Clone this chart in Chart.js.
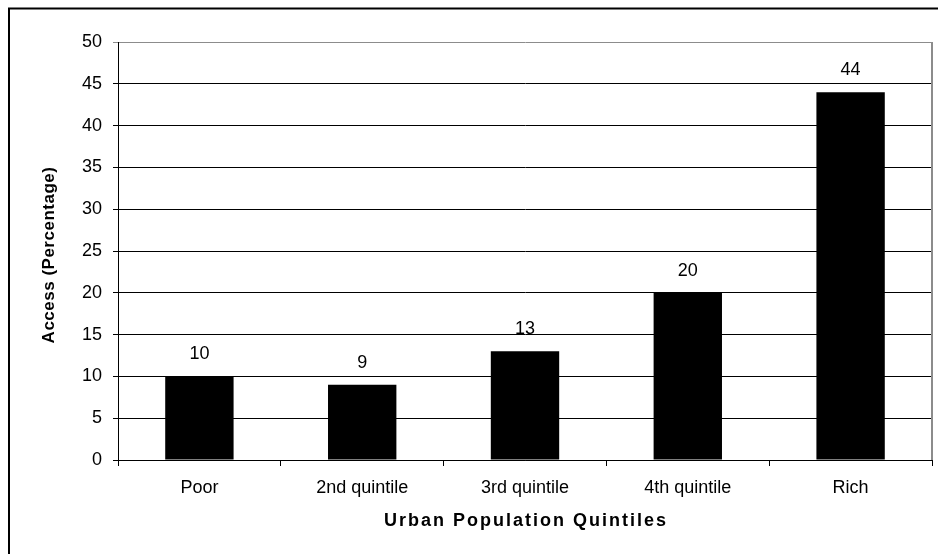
<!DOCTYPE html>
<html>
<head>
<meta charset="utf-8">
<script src="https://cdn.jsdelivr.net/npm/chart.js@4/dist/chart.umd.min.js"></script>
<style>
  html,body{margin:0;padding:0;background:#fff}
  #wrap{width:938px;height:554px;position:relative}
</style>
</head>
<body>
<div id="wrap"><canvas id="c"></canvas></div>
<script>
const categories = ['Poor','2nd quintile','3rd quintile','4th quintile','Rich']
const access = [10, 9, 13, 20, 44]
const yTicks = [0,5,10,15,20,25,30,35,40,45,50]
const xTitle = 'Urban Population Quintiles'
const yTitle = 'Access (Percentage)'

const FONT = "Arial, 'Liberation Sans', sans-serif"

// outer frame, gray plot border, axis titles and value labels
const decor = {
  id:'decor',
  beforeDraw(chart){
    const g = chart.ctx
    g.save()
    g.fillStyle = '#fff'
    g.fillRect(0,0,chart.width,chart.height)
    g.strokeStyle = '#000'
    g.lineWidth = 2
    g.beginPath()
    g.moveTo(9, chart.height+2); g.lineTo(9,8.5); g.lineTo(chart.width+2,8.5)
    g.stroke()
    g.restore()
  },
  afterDatasetsDraw(chart){
    const g = chart.ctx, a = chart.chartArea
    g.save()
    g.strokeStyle = '#8c8c8c'
    g.lineWidth = 2
    g.beginPath()
    g.moveTo(a.right, a.top); g.lineTo(a.right, a.bottom)
    g.stroke()
    g.fillStyle = '#000'
    g.font = '18px ' + FONT
    g.textAlign = 'center'
    g.textBaseline = 'alphabetic'
    chart.getDatasetMeta(0).data.forEach((bar,i)=>{
      g.fillText(String(access[i]), bar.x, bar.y - 17)
    })
    // axis titles
    g.font = 'bold 18px ' + FONT
    g.textBaseline = 'middle'
    g.letterSpacing = '2px'
    g.fillText(xTitle, (a.left + a.right)/2 + 1, 521)
    g.letterSpacing = '0.5px'
    g.font = 'bold 17px ' + FONT
    g.translate(49, (a.top + a.bottom)/2 + 4)
    g.rotate(-Math.PI/2)
    g.fillText(yTitle, 0, 0)
    g.restore()
  }
}

new Chart(document.getElementById('c'),{
  type:'bar',
  data:{ labels:categories,
    datasets:[{ label:'Access', data:access, backgroundColor:'#000', borderWidth:0,
      barPercentage:0.42, categoryPercentage:1 }]
  },
  options:{
    responsive:true, maintainAspectRatio:false, animation:false, devicePixelRatio:1,
    layout:{ padding:{ left:9, top:42, right:6, bottom:0 } },
    plugins:{ legend:{display:false}, tooltip:{enabled:false} },
    scales:{
      x:{
        grid:{ drawOnChartArea:false, color:'#000', tickLength:6, offset:true },
        border:{ color:'#000', width:1 },
        ticks:{ color:'#000', font:{family:FONT,size:18}, padding:11, maxRotation:0 },
        afterFit(s){ s.height = 94 }
      },
      y:{
        min:0, max:50,
        afterBuildTicks(s){ s.ticks = yTicks.map(v=>({value:v})) },
        grid:{ color:c => c.tick && c.tick.value===50 ? '#8c8c8c' : '#000', tickLength:5, lineWidth:1 },
        border:{ color:'#000', width:1 },
        ticks:{ color:'#000', font:{family:FONT,size:18}, padding:11 },
        afterFit(s){ s.width = 109 }
      }
    }
  },
  plugins:[decor]
})
</script>
</body>
</html>
